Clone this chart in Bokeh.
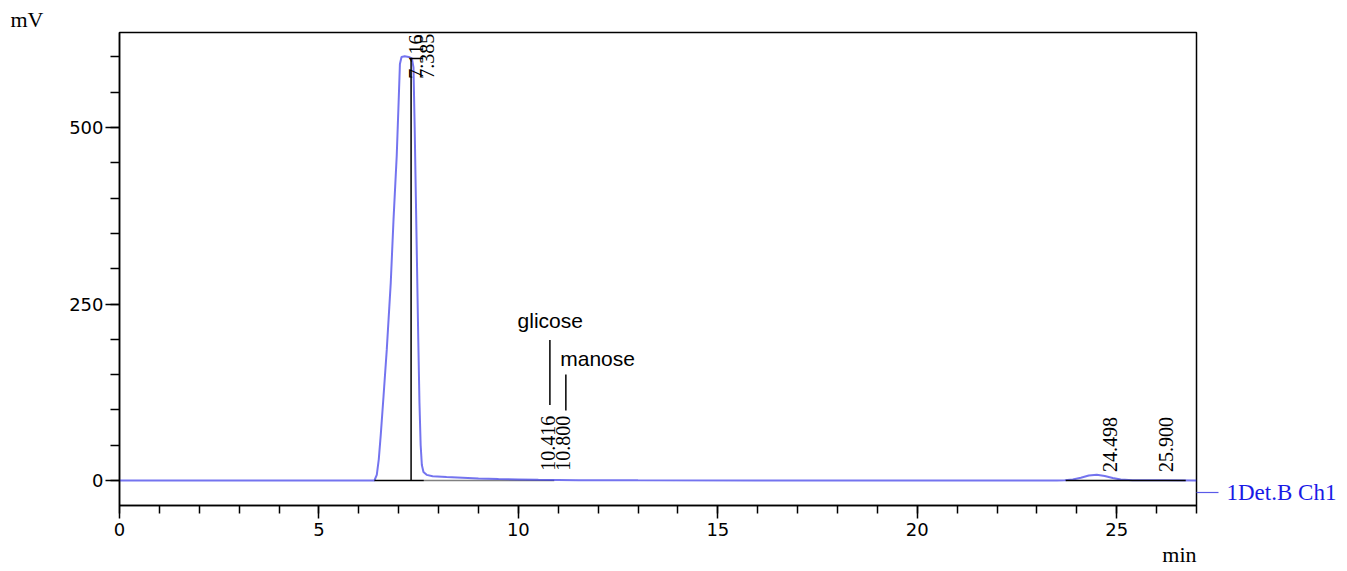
import math
from bokeh.plotting import figure
from bokeh.models import Range1d, FixedTicker, ColumnDataSource, Title, LinearAxis
from bokeh.core.properties import value
from bokeh.embed import file_html
from bokeh.resources import INLINE

# ---- chromatogram ----
time_min = [0.0, 3.0, 6.2, 6.39, 6.45, 6.50, 6.55, 6.62, 6.70, 6.80, 6.87, 6.95, 7.00, 7.03, 7.07,
            7.15, 7.25, 7.33, 7.37, 7.40, 7.43, 7.46, 7.49, 7.52, 7.55, 7.58, 7.62, 7.70, 7.85,
            8.2, 8.6, 9.0, 9.5, 10.0, 10.5, 11.5, 13.0, 16.0, 20.0, 23.5, 23.7, 23.9, 24.1, 24.3,
            24.5, 24.7, 24.9, 25.1, 25.4, 25.8, 26.2, 27.0]
signal_mv = [0.0, 0.0, 0.0, 0.0, 8, 30, 65, 120, 185, 280, 370, 460, 540, 590, 600,
             601, 600, 598, 585, 500, 400, 300, 200, 110, 50, 22, 12, 8, 6,
             5, 4, 3, 2, 1.5, 1, 0.5, 0.2, 0.0, 0.0, 0.0, 0.3, 1.5, 4, 7,
             8, 6.5, 3.5, 1.5, 0.5, 0.2, 0.2, 0.0]

# ---- peak table ----
peak_rt = [7.116, 7.385, 10.416, 10.800, 24.498, 25.900]
peak_text = ["7.116", "7.385", "10.416", "10.800", "24.498", "25.900"]
peak_label_mv = [569, 569, 14, 14, 12, 12]

# ---- compound annotations ----
compound_names = ["glicose", "manose"]
compound_line_x = [10.79, 11.19]
compound_line_top = [199, 150]
compound_line_bottom = [107, 99]
compound_text_x = [9.98, 11.05]
compound_text_y = [227, 173]

# ---- integration baselines ----
base_x0 = [6.39, 23.72]
base_x1 = [7.63, 26.73]
drop_x = [7.31]
drop_top = [598]

x_major = [0, 5, 10, 15, 20, 25]
x_minor = list(range(0, 28))
y_major = [0, 250, 500]
y_minor = list(range(0, 651, 50))

channel_name = "1Det.B Ch1"
channel_label_mv = -17

p = figure(width=1347, height=571, output_backend="svg", toolbar_location=None,
           x_range=Range1d(0, 27), y_range=Range1d(-35.4, 634.6),
           min_border_left=119, min_border_right=151, min_border_top=32, min_border_bottom=66)
p.grid.visible = False
p.outline_line_color = "black"
p.outline_line_width = 1.5
p.background_fill_color = "white"
p.border_fill_color = "white"

tick_font = "DejaVu Sans"
for ax in p.xaxis:
    ax.ticker = FixedTicker(ticks=x_major, minor_ticks=x_minor)
    ax.major_tick_out = 13
    ax.major_tick_in = 0
    ax.minor_tick_out = 8
    ax.minor_tick_in = 0
    ax.major_label_standoff = 4
for ax in p.yaxis:
    ax.ticker = FixedTicker(ticks=y_major, minor_ticks=y_minor)
    ax.major_tick_out = 14
    ax.major_tick_in = 0
    ax.minor_tick_out = 9
    ax.minor_tick_in = 0
    ax.major_label_standoff = 2
for ax in p.axis:
    ax.axis_line_color = "black"
    ax.axis_line_width = 1.5
    ax.major_tick_line_color = "black"
    ax.major_tick_line_width = 1.5
    ax.minor_tick_line_color = "black"
    ax.minor_tick_line_width = 1.5
    ax.major_label_text_font = tick_font
    ax.major_label_text_font_size = "18px"
    ax.major_label_text_color = "black"

# channel name on the right, as a one-tick axis
ch_axis = LinearAxis(ticker=FixedTicker(ticks=[channel_label_mv], minor_ticks=[]),
                     major_label_overrides={channel_label_mv: channel_name},
                     axis_line_color=None, major_tick_out=22, major_tick_in=0,
                     major_tick_line_color="#5a5ae8", major_tick_line_width=1.2,
                     minor_tick_line_color=None, major_label_standoff=8,
                     major_label_text_font="Liberation Serif",
                     major_label_text_font_size="23px", major_label_text_color="#1a1ae6")
p.add_layout(ch_axis, "right")

# gray baseline under signal
p.line([7.63, 10.9], [0, 0], line_color="#808080", line_width=1.5)

# signal
p.line(time_min, signal_mv, line_color="#2a2ae6", line_alpha=0.65, line_width=2)

# black integration baselines and drop line
p.segment(x0=base_x0, y0=[0] * len(base_x0), x1=base_x1, y1=[0] * len(base_x1),
          line_color="black", line_width=1.5)
p.segment(x0=drop_x, y0=[0] * len(drop_x), x1=drop_x, y1=drop_top,
          line_color="black", line_width=1.5)

# peak labels (rotated)
src = ColumnDataSource(dict(x=peak_rt, y=peak_label_mv, t=peak_text))
p.text(x="x", y="y", text="t", source=src, angle=math.pi / 2, text_align="left",
       text_baseline="top", x_offset=6, text_font=value("Liberation Serif"),
       text_font_size="20px", text_color="black")

# compound annotations
p.segment(x0=compound_line_x, y0=compound_line_bottom, x1=compound_line_x, y1=compound_line_top,
          line_color="black", line_width=1.5)
csrc = ColumnDataSource(dict(x=compound_text_x, y=compound_text_y, t=compound_names))
p.text(x="x", y="y", text="t", source=csrc, text_align="left", text_baseline="middle",
       text_font=value("Liberation Sans"), text_font_size="21px", text_color="black")

# axis titles in side panels
p.add_layout(Title(text="mV", align="left", offset=-109, standoff=2,
                   text_font="Liberation Serif", text_font_size="22px",
                   text_font_style="normal", text_color="black"), "above")
p.add_layout(Title(text="min", align="right", standoff=2,
                   text_font="Liberation Serif", text_font_size="22px",
                   text_font_style="normal", text_color="black"), "below")

open("out.html", "w").write(file_html(p, INLINE))
